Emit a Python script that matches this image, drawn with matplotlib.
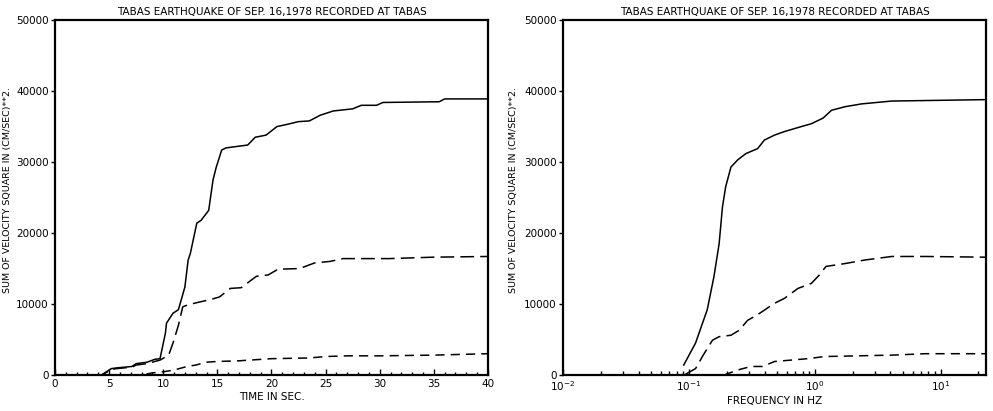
import numpy as np
import matplotlib.pyplot as plt
from matplotlib.ticker import LogLocator, NullFormatter, FixedLocator

# --- data ---
title = "TABAS EARTHQUAKE OF SEP. 16,1978 RECORDED AT TABAS"
ylabel = "SUM OF VELOCITY SQUARE IN (CM/SEC)**2."

# time domain (sec)
t_solid = [0, 4.3, 4.8, 5.2, 5.7, 7.1, 7.5, 8.5, 9.2, 9.7, 10.2, 10.3, 10.9, 11.4, 12.0, 12.3,
           12.5, 13.1, 13.5, 14.2, 14.6, 14.9, 15.4, 15.8, 17.8, 18.5, 19.5, 20.5, 21.4, 22.5,
           23.5, 24.5, 25.7, 27.5, 28.3, 29.7, 30.3, 35.5, 36.0, 40.0]
v_solid = [0, 0, 500, 900, 1000, 1200, 1600, 1800, 2200, 2300, 5900, 7300, 8700, 9200, 12400, 16200,
           17100, 21400, 21800, 23200, 27500, 29300, 31700, 32000, 32400, 33500, 33800, 35000, 35300, 35700,
           35800, 36600, 37200, 37500, 38000, 38000, 38400, 38500, 38900, 38900]

t_long = [0, 4.3, 4.8, 5.2, 5.7, 7.1, 7.5, 8.5, 9.2, 9.7, 10.5, 10.9, 11.4, 11.8, 12.3, 13.4, 14.3,
          15.2, 16.2, 17.2, 18.6, 19.7, 20.6, 22.6, 24.0, 25.4, 26.6, 30.9, 34.9, 40.0]
v_long = [0, 0, 400, 800, 900, 1100, 1400, 1600, 1900, 2100, 2800, 4500, 7000, 9600, 9900, 10300, 10600,
          11000, 12200, 12300, 13900, 14100, 14900, 15000, 15800, 16000, 16400, 16400, 16600, 16700]

t_short = [0, 8.0, 9.0, 10.0, 11.0, 12.2, 13.0, 14.0, 14.9, 17.0, 20.0, 23.5, 25.0, 27.0, 30.0, 35.0, 40.0]
v_short = [0, 0, 300, 450, 700, 1200, 1400, 1800, 1900, 2000, 2300, 2400, 2600, 2700, 2700, 2800, 3000]

# frequency domain (Hz)
f_solid = [0.091, 0.113, 0.140, 0.158, 0.174, 0.185, 0.196, 0.216, 0.244, 0.284, 0.352, 0.398,
           0.479, 0.575, 0.782, 0.94, 1.166, 1.36, 1.74, 2.36, 4.1, 23.0]
s_solid = [1400, 4500, 9200, 13800, 18500, 23700, 26500, 29300, 30300, 31200, 31900, 33100,
           33800, 34300, 35000, 35400, 36200, 37300, 37800, 38200, 38600, 38800]

f_long = [0.094, 0.113, 0.130, 0.154, 0.174, 0.216, 0.251, 0.293, 0.352, 0.479, 0.575, 0.736,
          0.94, 1.09, 1.23, 1.74, 2.5, 4.1, 7.6, 23.0]
s_long = [100, 900, 2800, 4900, 5400, 5600, 6300, 7700, 8500, 10100, 10800, 12200,
          12900, 14100, 15300, 15700, 16200, 16700, 16700, 16600]

f_short = [0.191, 0.244, 0.311, 0.385, 0.479, 0.65, 0.88, 1.2, 2.2, 4.1, 7.6, 23.0]
s_short = [0, 700, 1200, 1200, 1900, 2100, 2300, 2600, 2700, 2800, 3000, 3000]

plt.rcParams['font.family'] = ['DejaVu Sans']
plt.rcParams['font.size'] = 7.5

fig = plt.figure(figsize=(9.93, 4.11), dpi=100)
ax1 = fig.add_axes([0.0554, 0.0876, 0.436, 0.8634])
ax2 = fig.add_axes([0.567, 0.0876, 0.426, 0.8634])

lw = 1.1
for ax in (ax1, ax2):
    for sp in ax.spines.values():
        sp.set_linewidth(1.6)
    ax.set_ylim(0, 50000)
    ax.set_yticks([0, 10000, 20000, 30000, 40000, 50000])
    ax.tick_params(axis='y', direction='out', length=3, width=1, pad=1.5)
    ax.tick_params(axis='x', direction='in', length=4, width=1, pad=3)
    ax.tick_params(axis='x', which='minor', direction='in', length=3, width=1)
    ax.set_ylabel(ylabel, fontsize=6.8)
    ax.set_title(title, fontsize=7.5, pad=4)

ax1.yaxis.set_label_coords(-0.099, 0.52)
ax2.yaxis.set_label_coords(-0.106, 0.52)

# left: time
ax1.plot(t_solid, v_solid, color='black', lw=lw, ls='-')
ax1.plot(t_long, v_long, color='black', lw=lw, ls=(0, (9, 4)))
ax1.plot(t_short, v_short, color='black', lw=lw, ls=(0, (6, 4)))
ax1.set_xlim(0, 40)
ax1.set_xticks(range(0, 41, 5))
ax1.xaxis.set_minor_locator(FixedLocator(np.arange(0, 41, 1)))
ax1.tick_params(axis='x', which='minor', length=2)
ax1.set_xlabel("TIME IN SEC.", labelpad=2)

# right: frequency
ax2.plot(f_solid, s_solid, color='black', lw=lw, ls='-')
ax2.plot(f_long, s_long, color='black', lw=lw, ls=(0, (9, 4)))
ax2.plot(f_short, s_short, color='black', lw=lw, ls=(0, (6, 4)))
ax2.set_xscale('log')
ax2.set_xlim(0.01, 23)
ax2.xaxis.set_major_locator(LogLocator(base=10, numticks=10))
ax2.xaxis.set_minor_locator(LogLocator(base=10, subs=np.arange(2, 10), numticks=20))
ax2.xaxis.set_minor_formatter(NullFormatter())
ax2.set_xlabel("FREQUENCY IN HZ", labelpad=2)

fig.savefig("out.png", dpi=100)
